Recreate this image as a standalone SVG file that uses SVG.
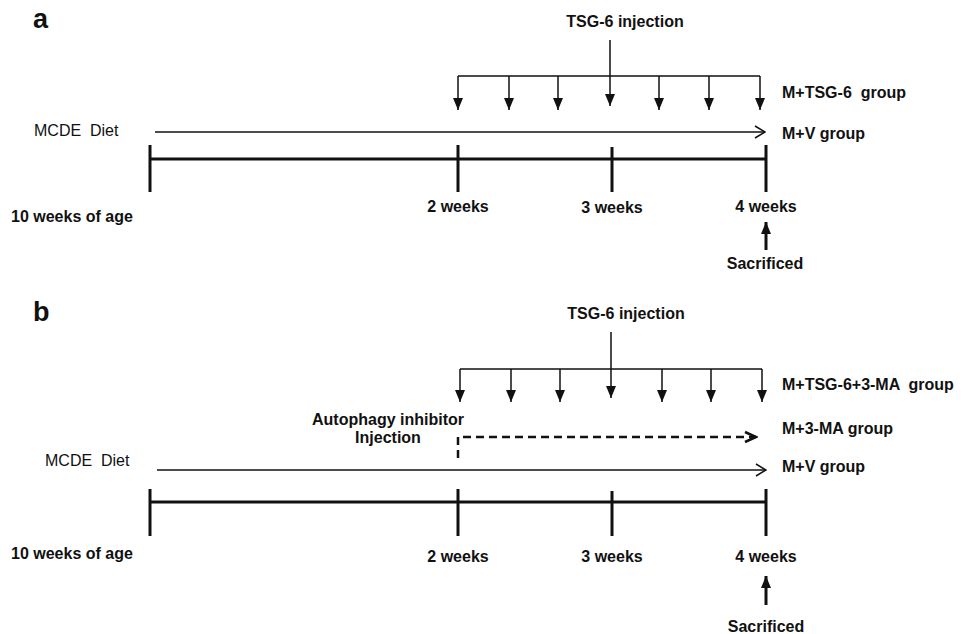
<svg xmlns="http://www.w3.org/2000/svg" width="965" height="634" viewBox="0 0 965 634">
<style>
text{font-family:"Liberation Sans",Arial,sans-serif;font-size:16px;font-weight:bold;fill:#111}
.reg{font-weight:normal}
.panel{font-size:27px}
.mid{text-anchor:middle}
.thin{stroke:#111;stroke-width:1.5;fill:none}
.axis{stroke:#111;stroke-width:3;fill:none}
.dash{stroke:#111;stroke-width:2.5;fill:none;stroke-dasharray:8 5}
</style>
<defs>
<marker id="fill" viewBox="0 0 12 10" refX="12" refY="5" markerWidth="12" markerHeight="10" markerUnits="userSpaceOnUse" orient="auto">
<path d="M0,0 L12,5 L0,10 z" fill="#111"/>
</marker>
<marker id="open" viewBox="0 0 12 14" refX="11" refY="7" markerWidth="12" markerHeight="14" markerUnits="userSpaceOnUse" orient="auto">
<path d="M1,1 L11,7 L1,13" fill="none" stroke="#111" stroke-width="1.5"/>
</marker>
<marker id="openb" viewBox="0 0 14 14" refX="12" refY="7" markerWidth="14" markerHeight="14" markerUnits="userSpaceOnUse" orient="auto">
<path d="M1,2 L12,7 L1,12" fill="none" stroke="#111" stroke-width="2.5"/>
</marker>
</defs>
<rect width="965" height="634" fill="#fff"/>

<!-- Panel a -->
<g id="label-a"><text class="panel" x="33" y="28">a</text></g>
<g id="a-tsg6"><text class="mid" x="625" y="27">TSG-6 injection</text></g>
<g id="a-mtsg6"><text x="782" y="98" xml:space="preserve">M+TSG-6  group</text></g>
<g id="a-mv"><text x="782" y="139">M+V group</text></g>
<g id="a-mcde"><text class="reg" x="34" y="136" xml:space="preserve">MCDE  Diet</text></g>
<g id="a-age"><text x="11" y="222">10 weeks of age</text></g>
<g id="a-w2"><text class="mid" x="458" y="212">2 weeks</text></g>
<g id="a-w3"><text class="mid" x="612" y="213">3 weeks</text></g>
<g id="a-w4"><text class="mid" x="766" y="212">4 weeks</text></g>
<g id="a-sac"><text class="mid" x="765" y="269">Sacrificed</text></g>

<g id="a-connectors">
<path class="thin" d="M610,40 V76 M458,76 H760"/>
<g class="thin" marker-end="url(#fill)">
<line x1="458" y1="76" x2="458" y2="110"/>
<line x1="509" y1="76" x2="509" y2="110"/>
<line x1="558" y1="76" x2="558" y2="110"/>
<line x1="610" y1="76" x2="610" y2="106"/>
<line x1="659" y1="76" x2="659" y2="110"/>
<line x1="709" y1="76" x2="709" y2="110"/>
<line x1="760" y1="76" x2="760" y2="110"/>
</g>
<line class="thin" x1="155" y1="132" x2="765" y2="132" marker-end="url(#open)"/>
<path class="axis" d="M150,159 H766 M150,145 V192 M458,145 V192 M612,147 V192 M766,145 V192"/>
<line class="axis" x1="766" y1="250" x2="766" y2="222" marker-end="url(#fill)"/>
</g>

<!-- Panel b -->
<g id="label-b"><text class="panel" x="33" y="321">b</text></g>
<g id="b-tsg6"><text class="mid" x="626" y="319">TSG-6 injection</text></g>
<g id="b-mtsg6ma"><text x="782" y="390" xml:space="preserve">M+TSG-6+3-MA  group</text></g>
<g id="b-autophagy"><text class="mid" x="388" y="425">Autophagy inhibitor</text><text class="mid" x="388" y="443">Injection</text></g>
<g id="b-m3ma"><text x="782" y="434">M+3-MA group</text></g>
<g id="b-mv"><text x="782" y="472">M+V group</text></g>
<g id="b-mcde"><text class="reg" x="45" y="466" xml:space="preserve">MCDE  Diet</text></g>
<g id="b-age"><text x="11" y="559">10 weeks of age</text></g>
<g id="b-w2"><text class="mid" x="458" y="562">2 weeks</text></g>
<g id="b-w3"><text class="mid" x="612" y="562">3 weeks</text></g>
<g id="b-w4"><text class="mid" x="766" y="562">4 weeks</text></g>
<g id="b-sac"><text class="mid" x="766" y="632">Sacrificed</text></g>

<g id="b-connectors">
<path class="thin" d="M611,332 V369 M460,369 H762"/>
<g class="thin" marker-end="url(#fill)">
<line x1="460" y1="369" x2="460" y2="402"/>
<line x1="511" y1="369" x2="511" y2="402"/>
<line x1="560" y1="369" x2="560" y2="402"/>
<line x1="611" y1="369" x2="611" y2="398"/>
<line x1="662" y1="369" x2="662" y2="402"/>
<line x1="711" y1="369" x2="711" y2="402"/>
<line x1="762" y1="369" x2="762" y2="402"/>
</g>
<path class="dash" d="M458,458 V437 H756" marker-end="url(#openb)"/>
<line class="thin" x1="157" y1="470" x2="766" y2="470" marker-end="url(#open)"/>
<path class="axis" d="M150,502 H766 M150,489 V536 M458,489 V536 M612,491 V536 M766,489 V536"/>
<line class="axis" x1="766" y1="605" x2="766" y2="576" marker-end="url(#fill)"/>
</g>
</svg>
